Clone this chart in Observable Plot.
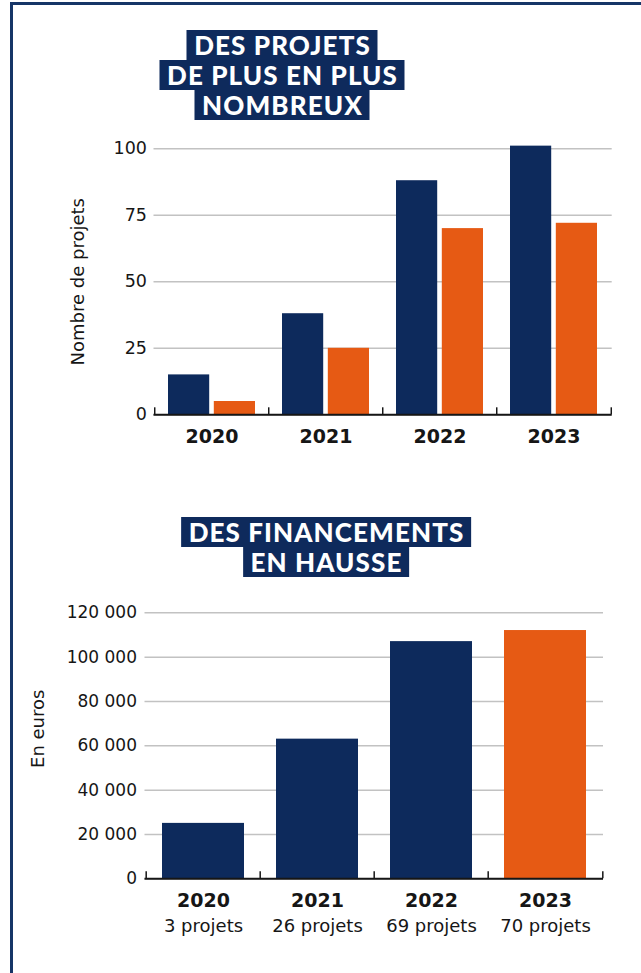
<!DOCTYPE html>
<html><head><meta charset="utf-8">
<script src="https://cdn.jsdelivr.net/npm/d3@7"></script>
<script src="https://cdn.jsdelivr.net/npm/@observablehq/plot@0.6"></script>
<style>
html,body{margin:0;padding:0;background:#fff;}
#page{position:relative;width:641px;height:973px;overflow:hidden;background:#fff;font-family:"DejaVu Sans",sans-serif;}
#frame{position:absolute;left:10px;top:2px;right:-10px;bottom:-10px;border-left:3px solid #163567;border-top:3px solid #163567;}
.title{position:absolute;transform:translateX(-50%);display:flex;flex-direction:column;align-items:center;}
.title span{display:block;background:#0e2a5c;color:#fff;font-family:Lato,sans-serif;font-weight:900;font-size:26px;letter-spacing:1.1px;line-height:30px;height:30px;padding:0 6.5px 0 7.5px;white-space:nowrap;}
.chart{position:absolute;left:0;}
</style></head>
<body><div id="page"><div id="frame"></div>
<div class="title" id="t1" style="left:282px;top:30px"></div>
<div class="chart" id="c1" style="top:130px"></div>
<div class="title" id="t2" style="left:326px;top:517px"></div>
<div class="chart" id="c2" style="top:590px"></div>
</div>
<script>
// ---- data ----
const title1 = ["DES PROJETS", "DE PLUS EN PLUS", "NOMBREUX"];
const title2 = ["DES FINANCEMENTS", "EN HAUSSE"];
const years = ["2020", "2021", "2022", "2023"];
const projetsNavy = [15, 38, 88, 101];
const projetsOrange = [5, 25, 70, 72];
const yTicks1 = [0, 25, 50, 75, 100];
const yLabel1 = "Nombre de projets";
const financements = [25000, 63000, 107000, 112000];
const nbProjets = [3, 26, 69, 70];
const yTicks2 = [0, 20000, 40000, 60000, 80000, 100000, 120000];
const yLabel2 = "En euros";
const highlightYear = "2023";

// ---- styles ----
const NAVY = "#0d2a5c", ORANGE = "#e65a14", GRID = "#c2c2c2", INK = "#161616";
const W = 641;
const FONT = "DejaVu Sans, sans-serif";

function addTitle(id, lines) {
  const el = document.getElementById(id);
  lines.forEach(t => { const s = document.createElement("span"); s.textContent = t; el.appendChild(s); });
}
addTitle("t1", title1);
addTitle("t2", title2);

const baseStyle = {fontFamily: FONT, fontSize: "17px", color: INK, background: "transparent", overflow: "visible"};

// ---- chart 1 ----
const rows1 = years.map((y, i) => ({year: y, navy: projetsNavy[i], orange: projetsOrange[i]}));
const m1 = {top: 18.3, bottom: 45.7, left: 153.5, right: 29.3}, H1 = 330;
const step1 = (W - m1.left - m1.right) / years.length;
const plotH1 = H1 - m1.top - m1.bottom;
const chart1 = Plot.plot({
  width: W, height: H1,
  marginTop: m1.top, marginBottom: m1.bottom, marginLeft: m1.left, marginRight: m1.right,
  style: baseStyle,
  x: {domain: years, paddingInner: 0.234, paddingOuter: 0.117, axis: null},
  y: {domain: [0, 100], axis: null},
  marks: [
    Plot.gridY(yTicks1, {stroke: GRID, strokeOpacity: 1, strokeWidth: 1.5}),
    Plot.barY(rows1, {x: "year", y: "navy", fill: NAVY, insetRight: 45.8}),
    Plot.barY(rows1, {x: "year", y: "orange", fill: ORANGE, insetLeft: 45.8}),
    Plot.ruleY([0], {stroke: INK, strokeWidth: 2}),
    Plot.ruleX(years, {x: d => d, dx: -step1 / 2, stroke: INK, strokeWidth: 1.5, insetTop: plotH1 - 7}),
    Plot.ruleX(years.slice(-1), {x: d => d, dx: step1 / 2, stroke: INK, strokeWidth: 1.5, insetTop: plotH1 - 7}),
    Plot.axisY(yTicks1, {tickSize: 0, tickPadding: 7, label: null, fontSize: 17.5}),
    Plot.axisX({tickSize: 0, tickPadding: 15, label: null, fontSize: 19, fontWeight: "bold"}),
    Plot.text([yLabel1], {text: d => d, frameAnchor: "left", rotate: -90, dx: 78 - m1.left, textAnchor: "middle", lineAnchor: "middle", fontSize: 18})
  ]
});
document.getElementById("c1").appendChild(chart1);

// ---- chart 2 ----
const rows2 = years.map((y, i) => ({year: y, value: financements[i], n: nbProjets[i]}));
const fmt = d3.formatLocale({thousands: "\u00a0", grouping: [3], decimal: ",", currency: ["", " €"]}).format(",");
const m2 = {top: 22.3, bottom: 81.7, left: 144.5, right: 38}, H2 = 370;
const step2 = (W - m2.left - m2.right) / years.length;
const plotH2 = H2 - m2.top - m2.bottom;
const chart2 = Plot.plot({
  width: W, height: H2,
  marginTop: m2.top, marginBottom: m2.bottom, marginLeft: m2.left, marginRight: m2.right,
  style: baseStyle,
  x: {domain: years, paddingInner: 0.277, paddingOuter: 0.1385, axis: null},
  y: {domain: [0, 120000], axis: null},
  marks: [
    Plot.gridY(yTicks2, {stroke: GRID, strokeOpacity: 1, strokeWidth: 1.5}),
    Plot.barY(rows2, {filter: d => d.year !== highlightYear, x: "year", y: "value", fill: NAVY}),
    Plot.barY(rows2, {filter: d => d.year === highlightYear, x: "year", y: "value", fill: ORANGE}),
    Plot.ruleY([0], {stroke: INK, strokeWidth: 2}),
    Plot.ruleX(years, {x: d => d, dx: -step2 / 2, stroke: INK, strokeWidth: 1.5, insetTop: plotH2 - 7}),
    Plot.ruleX(years.slice(-1), {x: d => d, dx: step2 / 2, stroke: INK, strokeWidth: 1.5, insetTop: plotH2 - 7}),
    Plot.axisY(yTicks2, {tickSize: 0, tickPadding: 8, label: null, fontSize: 17, tickFormat: fmt}),
    Plot.axisX({tickSize: 0, tickPadding: 15, label: null, fontSize: 19, fontWeight: "bold"}),
    Plot.axisX({tickSize: 0, tickPadding: 40, label: null, fontSize: 18,
      tickFormat: d => `${nbProjets[years.indexOf(d)]} projets`}),
    Plot.text([yLabel2], {text: d => d, frameAnchor: "left", rotate: -90, dx: 38 - m2.left, dy: -17, textAnchor: "middle", lineAnchor: "middle", fontSize: 18})
  ]
});
document.getElementById("c2").appendChild(chart2);
</script>
</body></html>
